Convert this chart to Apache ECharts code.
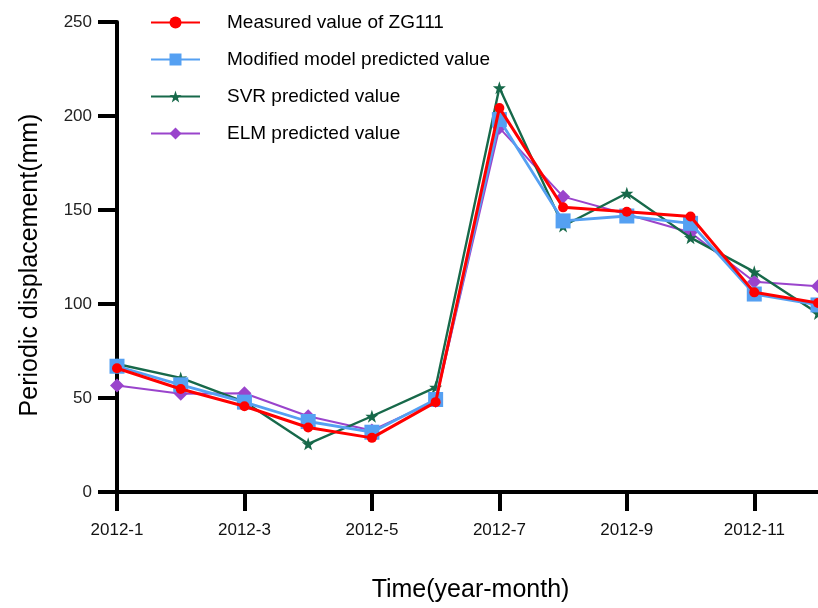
<!DOCTYPE html>
<html>
<head>
<meta charset="utf-8">
<script src="https://cdn.jsdelivr.net/npm/echarts@6/dist/echarts.min.js"></script>
<style>html,body{margin:0;padding:0;background:#fff}#c{width:818px;height:608px}</style>
</head>
<body>
<div id="c"></div>
<script>
const categories = ['2012-1','2012-2','2012-3','2012-4','2012-5','2012-6','2012-7','2012-8','2012-9','2012-10','2012-11','2012-12'];
const measured = [65.8, 54.8, 45.6, 34.3, 28.8, 47.8, 204.3, 151.4, 149.1, 146.5, 106.2, 100.5];
const modified = [66.9, 57.0, 47.8, 37.5, 31.8, 49.2, 198.1, 144.2, 146.8, 142.9, 105.3, 99.5];
const svr      = [68.1, 60.7, 48.0, 25.6, 40.3, 55.7, 215.0, 141.5, 158.9, 135.3, 117.1, 95.0];
const elm      = [56.6, 52.2, 52.5, 40.3, 32.7, 48.5, 193.7, 157.1, 147.7, 138.0, 111.8, 109.5];
const yTicks = [0, 50, 100, 150, 200, 250];

const star = 'path://M50,0 L61.8,35.1 L97.6,34.5 L69.1,56.9 L79.4,90.5 L50,70 L20.6,90.5 L30.9,56.9 L2.4,34.5 L38.2,35.1 Z';
const font = 'Liberation Sans, Arial, sans-serif';

const chart = echarts.init(document.getElementById('c'), null, {renderer:'canvas'});
chart.setOption({
  animation: false,
  backgroundColor: '#fff',
  grid: {left: 117, top: 22, width: 704.6, height: 471.3, containLabel: false},
  legend: {
    orient: 'vertical', left: 150, top: 13, itemGap: 18, padding: 0,
    itemWidth: 49, itemHeight: 15,
    textStyle: {fontFamily: font, fontSize: 19, color: '#000', padding: [0,0,0,22]},
    data: ['Measured value of ZG111','Modified model predicted value','SVR predicted value','ELM predicted value']
  },
  xAxis: {
    type: 'category', data: categories, boundaryGap: false,
    name: 'Time(year-month)', nameLocation: 'middle', nameGap: 86,
    nameTextStyle: {fontFamily: font, fontSize: 25, color: '#000', padding: [0,0,0,6]},
    axisLine: {lineStyle: {color: '#000', width: 4}},
    axisTick: {interval: 1, length: 19, lineStyle: {color: '#000', width: 4}},
    axisLabel: {interval: 1, margin: 30, fontFamily: font, fontSize: 17, color: '#111'},
    splitLine: {show: false}
  },
  yAxis: {
    type: 'value', min: yTicks[0], max: yTicks[yTicks.length-1], interval: 50,
    name: 'Periodic displacement(mm)', nameLocation: 'middle', nameGap: 74,
    nameTextStyle: {fontFamily: font, fontSize: 25, color: '#000', padding: [0,16,0,0]},
    axisLine: {show: true, lineStyle: {color: '#000', width: 4}},
    axisTick: {show: true, length: 19, lineStyle: {color: '#000', width: 4}},
    axisLabel: {margin: 25, fontFamily: font, fontSize: 17, color: '#222'},
    splitLine: {show: false}
  },
  series: [
    {name: 'Measured value of ZG111', type: 'line', data: measured, z: 5,
     symbol: 'circle', symbolSize: 10, showAllSymbol: true,
     lineStyle: {color: '#ff0000', width: 3}, itemStyle: {color: '#ff0000'}},
    {name: 'Modified model predicted value', type: 'line', data: modified, z: 4,
     symbol: 'rect', symbolSize: 15, showAllSymbol: true,
     lineStyle: {color: '#55a0f2', width: 2.8}, itemStyle: {color: '#55a0f2'}},
    {name: 'SVR predicted value', type: 'line', data: svr, z: 3,
     symbol: star, symbolSize: 13, showAllSymbol: true,
     lineStyle: {color: '#17694a', width: 2.4}, itemStyle: {color: '#17694a'}},
    {name: 'ELM predicted value', type: 'line', data: elm, z: 2,
     symbol: 'diamond', symbolSize: 14, showAllSymbol: true,
     lineStyle: {color: '#9a44cc', width: 2}, itemStyle: {color: '#9a44cc'}}
  ]
});
</script>
</body>
</html>
